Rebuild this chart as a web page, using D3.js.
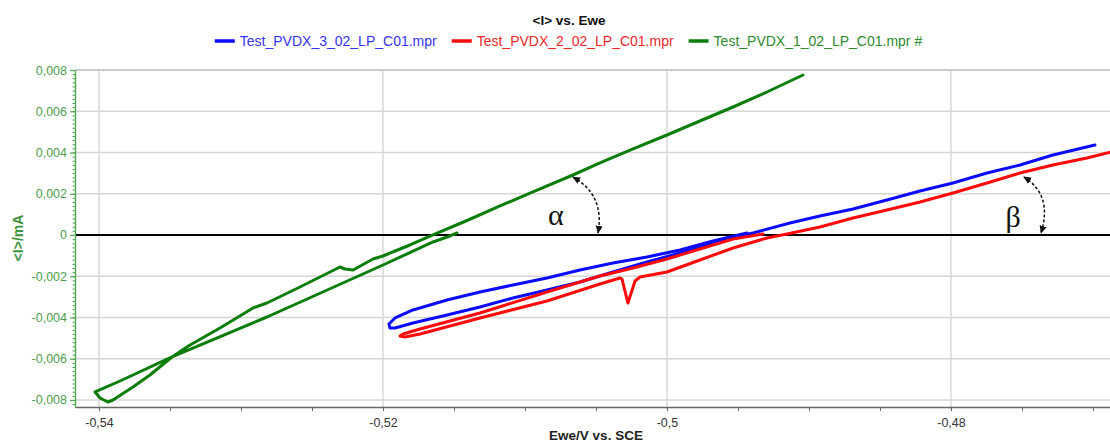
<!DOCTYPE html>
<html><head><meta charset="utf-8">
<script src="https://cdn.jsdelivr.net/npm/d3@7"></script>
<style>
html,body{margin:0;padding:0;background:#fff;}
svg{display:block;font-family:"Liberation Sans",Arial,sans-serif;}
</style></head><body>
<svg id="chart" width="1110" height="442"></svg>
<script>
// ---------- data ----------
const chartTitle = "<I> vs. Ewe";
const xTitle = "Ewe/V vs. SCE";
const yTitle = "<I>/mA";
const seriesNames = ["Test_PVDX_3_02_LP_C01.mpr", "Test_PVDX_2_02_LP_C01.mpr", "Test_PVDX_1_02_LP_C01.mpr #"];
const seriesColors = ["#0a0aff", "#ff0a0a", "#0b7d0b"];
const legendTextColors = ["#3434f0", "#f02828", "#2e8a2e"];

const xTicks = [-0.54, -0.52, -0.5, -0.48];
const xTickLabels = ["-0,54", "-0,52", "-0,5", "-0,48"];
const yTicks = [0.008, 0.006, 0.004, 0.002, 0, -0.002, -0.004, -0.006, -0.008];
const yTickLabels = ["0,008", "0,006", "0,004", "0,002", "0", "-0,002", "-0,004", "-0,006", "-0,008"];

// Series 3 (blue)
const blueE = [-0.49437, -0.49676, -0.49908, -0.50141, -0.50380, -0.50613, -0.50845, -0.51085, -0.51317, -0.51549, -0.51789, -0.51915, -0.51958, -0.51951, -0.51915, -0.51789, -0.51549, -0.51317, -0.51085, -0.50845, -0.50613, -0.50380, -0.50141, -0.49908, -0.49676, -0.49486, -0.49394, -0.49134, -0.48923, -0.48690, -0.48451, -0.48218, -0.47986, -0.47746, -0.47514, -0.47282, -0.46986];
const blueI = [0.000097, -0.000291, -0.000727, -0.001067, -0.001358, -0.001697, -0.002085, -0.002424, -0.002764, -0.003152, -0.003636, -0.004024, -0.004315, -0.004509, -0.004509, -0.004267, -0.003879, -0.003491, -0.003055, -0.002667, -0.002279, -0.001794, -0.001309, -0.000873, -0.000388, -0.000048, 0.000097, 0.000582, 0.000921, 0.001261, 0.001697, 0.002133, 0.002521, 0.003006, 0.003394, 0.003879, 0.004364];

// Series 2 (red)
const redE = [-0.49324, -0.49535, -0.49768, -0.50000, -0.50239, -0.50472, -0.50845, -0.51317, -0.51739, -0.51859, -0.51880, -0.51845, -0.51739, -0.51317, -0.50845, -0.50472, -0.50331, -0.50317, -0.50275, -0.50225, -0.50190, -0.50000, -0.49768, -0.49535, -0.49296, -0.49155, -0.48923, -0.48690, -0.48451, -0.48218, -0.47986, -0.47746, -0.47514, -0.47282, -0.47042, -0.46845];
const redI = [0.000048, -0.000194, -0.000679, -0.001164, -0.001600, -0.001988, -0.002764, -0.003782, -0.004558, -0.004800, -0.004897, -0.004945, -0.004800, -0.004024, -0.003200, -0.002376, -0.002085, -0.002133, -0.003297, -0.002230, -0.002036, -0.001794, -0.001212, -0.000630, -0.000145, 0.000048, 0.000388, 0.000824, 0.001212, 0.001600, 0.002036, 0.002521, 0.003006, 0.003394, 0.003733, 0.004073];

// Series 1 (green)
const greenE = [-0.51479, -0.51528, -0.51648, -0.52000, -0.52817, -0.53486, -0.53852, -0.54028, -0.53993, -0.53937, -0.53901, -0.53761, -0.53641, -0.53486, -0.53359, -0.53148, -0.52915, -0.52817, -0.52585, -0.52303, -0.52268, -0.52211, -0.52070, -0.52000, -0.51810, -0.51648, -0.51408, -0.51176, -0.50944, -0.50662, -0.50472, -0.50239, -0.50000, -0.49768, -0.49535, -0.49296, -0.49042];
const greenI = [0.000097, -0.000048, -0.000339, -0.001455, -0.003976, -0.005915, -0.007079, -0.007612, -0.007903, -0.008097, -0.008000, -0.007370, -0.006788, -0.005915, -0.005333, -0.004509, -0.003540, -0.003297, -0.002521, -0.001552, -0.001648, -0.001697, -0.001164, -0.001018, -0.000485, 0.000000, 0.000703, 0.001406, 0.002085, 0.002909, 0.003491, 0.004170, 0.004848, 0.005527, 0.006206, 0.006933, 0.007758];

// annotations: [start, control, end] in (E, I)
const alphaArrowE = [-0.50662, -0.50437, -0.50486];
const alphaArrowI = [0.00281, 0.00194, 0.000097];
const betaArrowE = [-0.47486, -0.47282, -0.47366];
const betaArrowI = [0.00281, 0.00194, 0.000097];
const annotLabels = ["α", "β"];
const annotLabelE = [-0.50782, -0.47563];
const annotLabelI = [0.00097, 0.00092];

// ---------- layout ----------
const plot = {left: 75, right: 1110, top: 70, bottom: 407};
const svg = d3.select("#chart");

const x = d3.scaleLinear().domain([-0.54169, -0.46880]).range([plot.left, plot.right]);
const y = d3.scaleLinear().domain([-0.00834, 0.008]).range([plot.bottom, plot.top]);

// grid
const grid = svg.append("g");
grid.selectAll("line.v").data(xTicks).join("line")
  .attr("x1", d => x(d)).attr("x2", d => x(d))
  .attr("y1", plot.top).attr("y2", plot.bottom)
  .attr("stroke", "#d6d6d6").attr("stroke-width", 1.4);
grid.selectAll("line.h").data(yTicks.filter(d => d !== 0)).join("line")
  .attr("x1", plot.left).attr("x2", plot.right)
  .attr("y1", d => y(d)).attr("y2", d => y(d))
  .attr("stroke", d => d === 0.008 ? "#c9c9c9" : "#d6d6d6")
  .attr("stroke-width", d => d === 0.008 ? 2.2 : 1.4);

// zero line
svg.append("line")
  .attr("x1", plot.left).attr("x2", plot.right)
  .attr("y1", y(0)).attr("y2", y(0))
  .attr("stroke", "#000").attr("stroke-width", 2.2);

// axes
const xMinor = d3.range(-0.54, -0.465, 0.005);
const yMinor = d3.range(-0.0082, 0.00801, 0.0002);

const gx = svg.append("g").attr("transform", `translate(0,${plot.bottom})`);
gx.call(d3.axisBottom(x).tickValues(xMinor).tickSize(4).tickFormat("").tickSizeOuter(0));
gx.selectAll("line").attr("stroke", "#666");
gx.select(".domain").attr("stroke", "#666").attr("stroke-width", 1.6);
const gxl = svg.append("g").attr("transform", `translate(0,${plot.bottom})`);
gxl.call(d3.axisBottom(x).tickValues(xTicks).tickFormat((d, i) => xTickLabels[i]).tickSize(4).tickPadding(7).tickSizeOuter(0));
gxl.select(".domain").remove();
gxl.selectAll("line").attr("stroke", "#666");
gxl.selectAll("text").attr("font-size", 12.5).attr("fill", "#333").attr("font-family", '"Liberation Sans",Arial,sans-serif');

const gy = svg.append("g").attr("transform", `translate(${plot.left},0)`);
gy.call(d3.axisLeft(y).tickValues(yMinor).tickSize(2.5).tickFormat("").tickSizeOuter(0));
gy.select(".domain").attr("stroke", "#4fa84f").attr("stroke-width", 1.4);
gy.selectAll("line").attr("stroke", "#4fa84f");
const gyl = svg.append("g").attr("transform", `translate(${plot.left},0)`);
gyl.call(d3.axisLeft(y).tickValues(yTicks).tickFormat((d, i) => yTickLabels[i]).tickSize(5).tickPadding(3).tickSizeOuter(0));
gyl.select(".domain").remove();
gyl.selectAll("line").attr("stroke", "#4fa84f").attr("stroke-width", 1.2);
gyl.selectAll("text").attr("font-size", 12.5).attr("fill", "#4c9e4c").attr("font-family", '"Liberation Sans",Arial,sans-serif');

// axis titles
svg.append("text").text(xTitle)
  .attr("x", 596).attr("y", 440).attr("text-anchor", "middle")
  .attr("font-size", 13.5).attr("font-weight", "bold").attr("fill", "#222");
svg.append("text").text(yTitle)
  .attr("transform", `translate(23,238) rotate(-90)`).attr("text-anchor", "middle")
  .attr("font-size", 14).attr("font-weight", "bold").attr("fill", "#3c933c");

// title
svg.append("text").text(chartTitle)
  .attr("x", 569).attr("y", 25).attr("text-anchor", "middle")
  .attr("font-size", 13.5).attr("font-weight", "bold").attr("fill", "#111");

// series
svg.append("defs").append("clipPath").attr("id", "clip")
  .append("rect").attr("x", plot.left).attr("y", plot.top - 5)
  .attr("width", plot.right - plot.left).attr("height", plot.bottom - plot.top + 5);
const line = d3.line().x(d => x(d[0])).y(d => y(d[1]));
const series = [d3.zip(blueE, blueI), d3.zip(redE, redI), d3.zip(greenE, greenI)];
svg.append("g").attr("clip-path", "url(#clip)")
  .selectAll("path").data(series).join("path")
  .attr("d", line).attr("fill", "none")
  .attr("stroke", (d, i) => seriesColors[i]).attr("stroke-width", 3)
  .attr("stroke-linejoin", "round").attr("stroke-linecap", "round");

// legend
const leg = svg.append("g");
let lx = 0;
seriesNames.forEach((name, i) => {
  const g = leg.append("g");
  g.append("line").attr("x1", 0).attr("x2", 20).attr("y1", 41).attr("y2", 41)
    .attr("stroke", seriesColors[i]).attr("stroke-width", 3.5);
  const t = g.append("text").text(name).attr("x", 25).attr("y", 46)
    .attr("font-size", 14).attr("fill", legendTextColors[i]);
  const w = t.node().getComputedTextLength();
  g.attr("transform", `translate(${lx},0)`);
  lx += 25 + w + 15;
});
const legW = lx - 15;
leg.attr("transform", `translate(${568.5 - legW / 2},0)`);

// annotations
svg.select("defs").append("marker").attr("id", "ah").attr("viewBox", "0 0 10 10")
  .attr("refX", 9).attr("refY", 5).attr("markerWidth", 8).attr("markerHeight", 8)
  .attr("markerUnits", "userSpaceOnUse").attr("orient", "auto-start-reverse")
  .append("path").attr("d", "M0,0.5 L10,5 L0,9.5 Z").attr("fill", "#111");

function arrowPath(E, I) {
  const p = d3.path();
  p.moveTo(x(E[0]), y(I[0]));
  p.quadraticCurveTo(x(E[1]), y(I[1]), x(E[2]), y(I[2]));
  return p.toString();
}
[[alphaArrowE, alphaArrowI], [betaArrowE, betaArrowI]].forEach(([E, I]) => {
  svg.append("path").attr("d", arrowPath(E, I)).attr("fill", "none")
    .attr("stroke", "#111").attr("stroke-width", 1.5).attr("stroke-dasharray", "3,2")
    .attr("marker-start", "url(#ah)").attr("marker-end", "url(#ah)");
});
annotLabels.forEach((s, i) => {
  svg.append("text").text(s)
    .attr("x", x(annotLabelE[i])).attr("y", y(annotLabelI[i]))
    .attr("text-anchor", "middle").attr("dominant-baseline", "central")
    .attr("font-family", '"Liberation Serif","DejaVu Serif",serif')
    .attr("font-size", 30).attr("fill", "#111");
});
</script>
</body></html>
